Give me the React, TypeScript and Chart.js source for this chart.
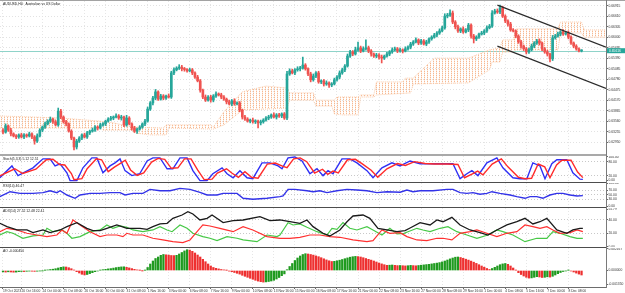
import { useEffect, useRef } from 'react';
import { Chart, registerables } from 'chart.js';

Chart.register(...registerables);

const FONT = "'Liberation Sans', Arial, sans-serif";
const PIP = 0.0001;

// ---- time axis (bar index) ----
const X_MIN = -1.14;
const X_MAX = 229.3;
const dateTickIdx = [0, 7, 15, 23, 31, 39, 47, 55, 63, 71, 79, 87, 95, 103, 111, 119, 127, 135, 143, 151, 159, 167, 175, 183, 191, 199, 207, 215];
const dateTickText = [
  '19 Oct 2023', '20 Oct 16:00', '24 Oct 00:00', '25 Oct 08:00', '26 Oct 16:00', '30 Oct 00:00', '31 Oct 08:00',
  '1 Nov 16:00', '3 Nov 00:00', '6 Nov 08:00', '7 Nov 16:00', '9 Nov 00:00', '10 Nov 08:00', '13 Nov 16:00',
  '15 Nov 00:00', '16 Nov 08:00', '17 Nov 16:00', '21 Nov 00:00', '22 Nov 08:00', '23 Nov 16:00', '27 Nov 00:00',
  '28 Nov 08:00', '29 Nov 16:00', '1 Dec 00:00', '4 Dec 08:00', '5 Dec 16:00', '7 Dec 00:00', '8 Dec 08:00',
];

// ---- AUDUSD H4 candles ----
const firstOpen = 0.6331;
const closes = [
  0.6325, 0.6343, 0.6331, 0.6320, 0.6314, 0.6311, 0.6317, 0.6311, 0.6317, 0.6314,
  0.6320, 0.6311, 0.6299, 0.6314, 0.6331, 0.6340, 0.6349, 0.6357, 0.6363, 0.6355,
  0.6346, 0.6386, 0.6369, 0.6355, 0.6349, 0.6328, 0.6308, 0.6282, 0.6299, 0.6308,
  0.6317, 0.6311, 0.6323, 0.6328, 0.6331, 0.6340, 0.6337, 0.6346, 0.6349, 0.6357,
  0.6363, 0.6366, 0.6369, 0.6372, 0.6366, 0.6369, 0.6346, 0.6366, 0.6349, 0.6337,
  0.6328, 0.6334, 0.6340, 0.6349, 0.6357, 0.6392, 0.6410, 0.6424, 0.6442, 0.6421,
  0.6430, 0.6424, 0.6430, 0.6427, 0.6497, 0.6506, 0.6511, 0.6514, 0.6509, 0.6507,
  0.6503, 0.6506, 0.6497, 0.6485, 0.6474, 0.6447, 0.6427, 0.6418, 0.6427, 0.6418,
  0.6430, 0.6436, 0.6433, 0.6427, 0.6421, 0.6413, 0.6407, 0.6416, 0.6407, 0.6410,
  0.6389, 0.6369, 0.6363, 0.6357, 0.6360, 0.6355, 0.6357, 0.6352, 0.6355, 0.6360,
  0.6366, 0.6369, 0.6375, 0.6369, 0.6375, 0.6372, 0.6378, 0.6366, 0.6494, 0.6503,
  0.6497, 0.6506, 0.6509, 0.6511, 0.6520, 0.6509, 0.6494, 0.6477, 0.6488, 0.6497,
  0.6471, 0.6474, 0.6465, 0.6468, 0.6462, 0.6465, 0.6477, 0.6485, 0.6497, 0.6506,
  0.6517, 0.6546, 0.6558, 0.6552, 0.6564, 0.6570, 0.6561, 0.6567, 0.6570, 0.6561,
  0.6552, 0.6546, 0.6549, 0.6543, 0.6540, 0.6546, 0.6552, 0.6558, 0.6564, 0.6567,
  0.6561, 0.6564, 0.6561, 0.6567, 0.6572, 0.6581, 0.6587, 0.6593, 0.6584, 0.6590,
  0.6581, 0.6587, 0.6596, 0.6601, 0.6607, 0.6613, 0.6619, 0.6628, 0.6662, 0.6665,
  0.6671, 0.6645, 0.6631, 0.6619, 0.6625, 0.6616, 0.6622, 0.6636, 0.6604, 0.6596,
  0.6601, 0.6610, 0.6613, 0.6619, 0.6628, 0.6633, 0.6671, 0.6677, 0.6674, 0.6686,
  0.6662, 0.6648, 0.6639, 0.6622, 0.6619, 0.6604, 0.6587, 0.6575, 0.6567, 0.6558,
  0.6564, 0.6575, 0.6584, 0.6590, 0.6584, 0.6567, 0.6558, 0.6552, 0.6538, 0.6599,
  0.6604, 0.6610, 0.6616, 0.6610, 0.6613, 0.6601, 0.6584, 0.6575, 0.6567, 0.6561,
  0.65616,
];
const upperWickPips = [
  4, 6, 3, 5, 3, 4, 3, 5, 4, 3, 5, 3, 4, 6, 4, 3, 5, 4, 6, 3,
  4, 9, 5, 3, 4, 3, 4, 3, 5, 4, 3, 5, 4, 3, 6, 4, 3, 5, 4, 3,
  4, 5, 3, 6, 4, 5, 3, 8, 4, 3, 5, 3, 4, 3, 5, 6, 4, 5, 7, 3,
  5, 4, 3, 6, 5, 6, 4, 7, 5, 4, 3, 5, 4, 3, 5, 4, 3, 6, 4, 5,
  4, 6, 3, 5, 4, 3, 5, 4, 6, 3, 4, 3, 5, 4, 3, 6, 4, 3, 5, 4,
  4, 5, 3, 6, 4, 5, 3, 4, 8, 6, 5, 4, 6, 5, 23, 4, 3, 5, 6, 4,
  5, 3, 4, 6, 3, 4, 5, 4, 6, 5, 4, 6, 5, 4, 8, 17, 5, 6, 23, 5,
  4, 3, 5, 4, 6, 3, 5, 4, 6, 5, 4, 5, 3, 6, 4, 5, 4, 6, 3, 5,
  4, 5, 3, 4, 5, 4, 6, 5, 7, 5, 9, 6, 4, 5, 3, 6, 4, 5, 4, 5,
  4, 3, 5, 4, 6, 5, 7, 5, 6, 8, 5, 4, 3, 5, 4, 3, 4, 5, 3, 4,
  5, 6, 4, 5, 6, 3, 4, 5, 3, 7, 5, 6, 4, 7, 5, 6, 4, 3, 4, 3,
  3,
];
const lowerWickPips = [
  5, 3, 4, 6, 3, 5, 4, 3, 5, 4, 3, 5, 9, 4, 3, 5, 4, 3, 4, 5,
  3, 4, 5, 4, 6, 3, 5, 9, 6, 4, 5, 3, 4, 5, 3, 4, 6, 3, 4, 5,
  3, 4, 5, 3, 4, 6, 5, 4, 3, 6, 4, 7, 3, 4, 5, 3, 4, 6, 5, 4,
  3, 5, 4, 3, 4, 5, 3, 4, 6, 5, 4, 3, 5, 4, 3, 6, 5, 4, 3, 6,
  5, 4, 3, 5, 4, 6, 3, 5, 4, 3, 5, 6, 4, 3, 5, 4, 5, 15, 6, 4,
  3, 5, 4, 3, 6, 4, 5, 4, 5, 4, 3, 5, 4, 6, 3, 4, 5, 6, 4, 5,
  4, 5, 6, 4, 7, 5, 3, 4, 5, 4, 5, 3, 4, 5, 3, 4, 5, 3, 4, 5,
  6, 4, 5, 6, 14, 4, 3, 5, 4, 3, 5, 4, 6, 3, 4, 5, 4, 3, 5, 4,
  3, 5, 4, 4, 3, 5, 4, 3, 4, 5, 4, 5, 6, 4, 5, 4, 3, 5, 6, 12,
  5, 4, 3, 5, 4, 3, 4, 3, 4, 5, 4, 5, 6, 4, 3, 5, 4, 6, 5, 6,
  4, 3, 5, 4, 6, 5, 4, 6, 9, 5, 4, 3, 5, 4, 3, 5, 4, 5, 4, 3,
  3,
];
const priceTicks = [0.66915, 0.6661, 0.66305, 0.66, 0.65695, 0.6539, 0.65085, 0.6478, 0.64475, 0.6417, 0.63865, 0.6356, 0.63255, 0.6295];

// ---- Ichimoku cloud: Senkou spans as [bar index, price] ----
const senkouA = [
  [-1.2, 0.6372], [11, 0.6369], [22, 0.6366], [37, 0.6357], [42, 0.6352], [49, 0.634], [61, 0.6337], [62, 0.6346],
  [79, 0.6346], [80, 0.634], [84, 0.6384], [91, 0.6442], [100, 0.6459], [108, 0.6453], [109, 0.6439], [118, 0.6439],
  [119, 0.6418], [126, 0.6418], [127, 0.6427], [135, 0.6427], [136, 0.6433], [141, 0.6433], [142, 0.6471], [152, 0.6471],
  [153, 0.6482], [156, 0.6482], [164, 0.654], [177, 0.654], [185, 0.6564], [189, 0.657], [190, 0.6593], [194, 0.6593],
  [195, 0.6625], [211, 0.6625], [212, 0.6645], [220, 0.6645], [221, 0.6622], [230, 0.6622],
];
const senkouB = [
  [-1.2, 0.6337], [37, 0.6337], [38, 0.6331], [49, 0.6331], [50, 0.6323], [56, 0.6317], [62, 0.6317], [63, 0.6337],
  [80, 0.6334], [84, 0.6346], [91, 0.6389], [108, 0.6395], [109, 0.6418], [118, 0.6418], [119, 0.6401], [125, 0.6401],
  [126, 0.6378], [129, 0.6375], [135, 0.6375], [136, 0.6427], [141, 0.6427], [142, 0.6433], [155, 0.6439], [156, 0.6465],
  [177, 0.6468], [185, 0.6506], [186, 0.6529], [189, 0.6529], [190, 0.6558], [194, 0.6558], [195, 0.6564], [211, 0.6564],
  [212, 0.6613], [220, 0.6613], [221, 0.6601], [230, 0.6601],
];

// ---- descending channel anchors [bar index, price] ----
const channelUpper = [[188, 0.6694], [229.3, 0.6572]];
const channelLower = [[188, 0.6575], [229.3, 0.6452]];

// ---- Stochastic (5,3,3) ----
const stochMain = [
  [-1.2, 12], [3.4, 62], [5.7, 21], [11.4, 54], [15.2, 92], [17.9, 92], [19.8, 62], [21.7, 71], [24.3, 33], [25.5, 0],
  [28.1, 0], [30.4, 54], [33.8, 96], [35.7, 96], [38, 33], [40.7, 62], [42.6, 75], [44.5, 92], [46.4, 42], [49, 21],
  [52, 29], [54.8, 83], [57, 96], [59.7, 96], [62.4, 50], [64.6, 50], [67.3, 96], [70, 96], [72.2, 42], [74.9, 0],
  [77.6, 0], [79.8, 29], [83.3, 54], [85.2, 29], [87.5, 12], [90.1, 42], [92.8, 12], [95, 8], [98.5, 75], [101.5, 75],
  [104.6, 62], [106.1, 50], [108.4, 96], [111, 100], [113.7, 83], [116.7, 29], [119.4, 50], [121.7, 21], [123.6, 42], [125.5, 29],
  [128.9, 92], [131.9, 92], [134.6, 75], [138.4, 42], [140.7, 12], [144.1, 54], [147.9, 75], [151, 62], [154.8, 83], [158.6, 71],
  [162.4, 71], [167.3, 71], [171.1, 71], [173.8, 8], [176.4, 29], [178.3, 42], [180.6, 21], [184, 75], [187.8, 96], [190.1, 54],
  [193.9, 12], [196.6, 8], [199.2, 8], [201.5, 75], [204.2, 62], [206.1, 8], [208.7, 71], [210.6, 88], [214.4, 88], [216.7, 33],
  [219.4, 6], [220.5, 5.12],
];
const stochSignal = [
  [-1.2, 20], [4.5, 50], [7.5, 30], [12.5, 48], [16.5, 88], [19, 90], [21.5, 68], [23.5, 66], [26, 30], [27, 4],
  [30, 8], [32, 50], [35.5, 92], [37.5, 88], [40, 38], [42.5, 58], [44.5, 72], [46.5, 86], [48.5, 45], [51, 22],
  [53.5, 32], [56.5, 78], [59, 94], [61.5, 90], [64, 52], [66.5, 54], [69, 92], [71.5, 92], [74, 45], [76.5, 4],
  [79.5, 6], [81.5, 32], [85, 50], [87, 32], [89.5, 14], [92, 38], [94.5, 14], [97, 10], [100.5, 70], [103.5, 74],
  [106.5, 60], [108, 55], [110.5, 92], [113, 96], [115.5, 80], [118.5, 32], [121.5, 48], [123.5, 26], [125.5, 40], [127.5, 32],
  [131, 88], [134, 90], [136.5, 72], [140, 44], [142.5, 14], [146, 50], [150, 72], [153, 64], [156.5, 80], [160.5, 72],
  [164, 70], [169, 70], [173, 68], [175.5, 12], [178.5, 28], [180.5, 40], [182.5, 24], [186, 70], [189.5, 92], [192, 58],
  [196, 14], [198.5, 8], [201, 10], [203.5, 70], [206, 58], [208, 12], [210.5, 66], [212.5, 86], [216, 86], [218.5, 36],
  [220.5, 12.51],
];

// ---- RSI(14) ----
const rsiLine = [
  [-1.2, 42], [2.7, 63], [6.5, 56], [11.4, 56], [15.2, 59], [17.9, 67], [20.5, 59], [21.7, 67], [24.3, 49], [27.4, 35],
  [29.3, 49], [33.1, 56], [36.9, 56], [40.7, 59], [44.5, 59], [46.4, 49], [49.4, 56], [53.2, 56], [55.9, 73], [59.7, 67],
  [63.5, 67], [67.3, 77], [71.1, 73], [74.9, 60], [77.6, 49], [81.4, 49], [83.7, 56], [89, 56], [91.3, 35], [95, 31],
  [100.4, 35], [105.3, 42], [106.5, 45], [108.4, 73], [111, 73], [115.6, 67], [117.9, 63], [120.5, 67], [123.2, 59], [127, 67],
  [130.8, 73], [134.6, 70], [138.4, 67], [142.2, 59], [146, 63], [151, 61], [153.6, 70], [155.9, 63], [158.6, 67], [163.5, 67],
  [168.8, 73], [171.1, 73], [173.8, 59], [176.4, 56], [178.7, 59], [181.4, 52], [184, 56], [185.9, 63], [189, 56], [192.8, 49],
  [195.4, 42], [198.5, 35], [200.4, 42], [203, 42], [205.3, 35], [208, 49], [210.6, 56], [212.9, 56], [215.6, 49], [218.3, 45],
  [220.5, 46.47],
];

// ---- ADX(14) with +DI / -DI ----
const adxMain = [
  [-1.2, 35], [1.5, 30], [5.3, 25], [9.1, 25], [11.4, 21], [15.2, 25], [17.9, 21], [21.7, 25], [24.3, 30], [28.1, 36],
  [31.9, 27.5], [34.2, 24], [36.9, 24], [39.5, 27.5], [43.3, 32.5], [47.1, 27.5], [52.1, 27.5], [54.8, 26], [57, 30], [59.7, 34],
  [62.4, 35], [64.6, 42.5], [68.1, 47.5], [70.3, 52.5], [72.2, 49], [74.9, 40], [77.6, 42.5], [79.5, 47.5], [83.7, 36], [87.5, 39],
  [91.3, 40], [97.7, 45], [101.5, 39], [105.3, 40], [109.1, 37.4], [112.9, 35], [115.6, 40], [117.9, 30], [121.7, 20], [124.3, 16],
  [128.1, 25], [130.8, 37.4], [133.1, 46], [136.9, 47.5], [139.5, 42.5], [142.6, 27.5], [146, 25], [149.8, 22.4], [152.9, 24], [154.8, 28],
  [158.6, 36], [162.4, 32.5], [165, 40], [167.3, 37.4], [170.7, 44], [173.8, 32.5], [177.6, 25], [181.4, 21], [184.4, 17.4], [187.8, 25],
  [191.6, 32.5], [195.4, 37.4], [198.5, 42.5], [201.5, 34], [204.2, 37.4], [206.8, 42.5], [210.6, 25], [214.4, 20], [216.7, 25], [219.4, 27.5],
  [220.5, 27.52],
];
const plusDI = [
  [-1.2, 17.4], [1.5, 22.4], [3.8, 20], [7.6, 12.5], [11.4, 16], [15.2, 17.4], [16.7, 27.5], [19, 22.4], [22.4, 25], [24.3, 20],
  [26.2, 12.5], [29.3, 15], [33.1, 22.4], [36.9, 25], [39.5, 32.5], [41.8, 27.5], [44.5, 31], [47.1, 29], [49.4, 25], [53.2, 22.4],
  [57, 25], [59.7, 30], [62.4, 25], [64.3, 22.4], [67.3, 32.5], [70, 27.5], [72.2, 20], [76, 15], [78.7, 12.5], [81.4, 9],
  [85.2, 15], [89, 12.5], [91.3, 10], [96.6, 7.4], [100.4, 17.4], [104.2, 15], [105.3, 17.4], [108.4, 36], [110.3, 32.5], [112.9, 34],
  [115.6, 29], [119.4, 22.4], [123.2, 17.4], [125.1, 27.5], [127, 26], [129.3, 36], [131.9, 27.5], [134.6, 25], [138.4, 30], [140.7, 25],
  [144.1, 17.4], [147.1, 27.5], [149.8, 19], [152.5, 20], [154, 22.4], [157.4, 27.5], [159.7, 25], [162.4, 22.4], [166.2, 27.5], [169.2, 30],
  [172.6, 22.4], [176.4, 17.4], [180.2, 12.5], [184.4, 17.4], [187.8, 25], [190.1, 22.4], [193.9, 17.4], [198.5, 7.4], [203, 12.5], [206.8, 12.5],
  [209.1, 22.4], [211.8, 20], [215.6, 15], [218.3, 12.5], [220.5, 12.48],
];
const minusDI = [
  [-1.2, 22.4], [1.5, 27.5], [5.3, 25], [9.1, 20], [12.9, 17.4], [16.7, 15], [20.5, 17.4], [22.4, 25], [24.3, 20], [26.6, 40],
  [29.3, 32.5], [33.1, 22.4], [36.9, 15], [39.5, 17.4], [43.3, 17.4], [45.6, 15], [47.1, 20], [49.4, 17.4], [53.2, 17.4], [57, 12.5],
  [60.8, 10], [64.6, 7.4], [68.4, 6], [71.1, 10], [73.8, 22.4], [76, 32.5], [78.7, 31], [82.5, 27.5], [87.5, 22.4], [91.3, 30],
  [95, 25], [100.4, 15], [105.3, 12.5], [109.1, 12.5], [112.9, 14], [116.7, 17.4], [120.5, 17.4], [124.3, 15], [128.1, 14], [133.1, 10],
  [138.4, 7.4], [140.7, 9], [144.1, 25], [147.1, 20], [151, 21], [153.6, 15], [157.4, 10], [161.2, 9], [165, 12.5], [167.3, 12.5],
  [170.7, 10], [173.8, 20], [177.6, 22.4], [180.2, 25], [184, 20], [187.8, 15], [191.6, 20], [195.4, 22.4], [198.5, 32.5], [201.5, 30],
  [204.2, 27.5], [206.8, 30], [209.1, 25], [211.8, 20], [215.6, 21], [218.3, 25], [220.5, 22.41],
];

// ---- Awesome Oscillator, one value per bar ----
const aoValues = [
  -0.00014, -0.00016, -0.00013, -0.00015, -0.00017, -0.00016, -0.00012, -0.0001, -0.00011, -0.00008,
  -0.00006, -0.00007, -0.00009, -0.00007, -0.00004, -0.00002, 0.00002, 0.00006, 0.0001, 0.00013,
  0.00018, 0.00025, 0.00032, 0.00036, 0.00035, 0.00028, 0.00018, 0.00004, -0.00012, -0.00025,
  -0.00038, -0.00044, -0.0004, -0.00031, -0.00022, -0.00012, -0.00005, 0.00003, 0.00008, 0.00012,
  0.00016, 0.00019, 0.00024, 0.00029, 0.00033, 0.00036, 0.00037, 0.00032, 0.00026, 0.00019,
  0.00012, 0.00006, 0.00002, -0.00001, 0.00002, 0.0003, 0.00065, 0.00095, 0.0012, 0.00135,
  0.00152, 0.0016, 0.00157, 0.00154, 0.0015, 0.00149, 0.00152, 0.00165, 0.0018, 0.00196,
  0.00208, 0.00204, 0.00192, 0.00175, 0.00155, 0.00135, 0.00112, 0.00088, 0.00065, 0.00045,
  0.0003, 0.00022, 0.00016, 0.0001, 0.00006, 0.00002, -0.00006, -0.00012, -0.0002, -0.00028,
  -0.00036, -0.00048, -0.00058, -0.00068, -0.00078, -0.00088, -0.00098, -0.00106, -0.00112, -0.00116,
  -0.00114, -0.0011, -0.00105, -0.00098, -0.00085, -0.0007, -0.00052, -0.00034, 0.00008, 0.0004,
  0.0007, 0.001, 0.00125, 0.00145, 0.0016, 0.00168, 0.00165, 0.0016, 0.00154, 0.00146,
  0.00138, 0.00128, 0.00117, 0.00106, 0.00097, 0.0009, 0.00092, 0.00097, 0.00103, 0.0011,
  0.00118, 0.00126, 0.00133, 0.00138, 0.00141, 0.00139, 0.00135, 0.00128, 0.0012, 0.00112,
  0.00104, 0.00095, 0.00085, 0.00075, 0.00066, 0.00058, 0.00052, 0.00053, 0.00055, 0.00052,
  0.00049, 0.0005, 0.00048, 0.00046, 0.00048, 0.00051, 0.00049, 0.00047, 0.0005, 0.00053,
  0.00056, 0.00059, 0.00062, 0.00066, 0.0007, 0.00074, 0.00079, 0.00086, 0.00095, 0.00105,
  0.00116, 0.00125, 0.00133, 0.00135, 0.0013, 0.00122, 0.00113, 0.00104, 0.00094, 0.00083,
  0.00071, 0.00058, 0.00045, 0.00033, 0.0002, 0.0001, 0.0002, 0.00032, 0.00045, 0.00058,
  0.00066, 0.0007, 0.00062, 0.00045, 0.00025, 0.00003, -0.00022, -0.0004, -0.00055, -0.00068,
  -0.00076, -0.00074, -0.00068, -0.00062, -0.00065, -0.0007, -0.00068, -0.00063, -0.00066, -0.00058,
  -0.00045, -0.00032, -0.0002, -0.0001, -0.00004, 0.00002, -0.00005, -0.00015, -0.00026, -0.00036,
  -0.00045,
];

const BULL = '#26a69a';
const BEAR = '#ef5350';
const AO_UP = '#1f9a1f';
const AO_DOWN = '#ee3030';

const toXY = (pts) => pts.map(([x, y]) => ({ x, y }));
const last = (pts) => pts[pts.length - 1][1];

function xAxis(showLabels) {
  return {
    type: 'linear',
    min: X_MIN,
    max: X_MAX,
    bounds: 'data',
    offset: false,
    afterBuildTicks: (s) => {
      s.ticks = dateTickIdx.map((v) => ({ value: v }));
    },
    afterFit: (s) => {
      s.height = showLabels ? 6 : 0;
      s.paddingLeft = 0;
      s.paddingRight = 0;
      s.paddingTop = 0;
      s.paddingBottom = 0;
    },
    grid: { offset: false, color: '#e6e6e6', lineWidth: 1, drawTicks: showLabels, tickLength: 2, tickColor: '#6a6a6a', tickBorderDash: [] },
    border: { display: false, dash: [1, 2] },
    ticks: {
      display: showLabels,
      autoSkip: false,
      maxRotation: 0,
      minRotation: 0,
      align: 'start',
      padding: 0.5,
      color: '#333',
      font: { family: FONT, size: 3.3 },
      callback: (v) => {
        const k = dateTickIdx.indexOf(v);
        return k >= 0 ? dateTickText[k] : '';
      },
    },
  };
}

function yAxis(min, max, ticks, digits, levels, levelColor) {
  return {
    type: 'linear',
    position: 'right',
    min,
    max,
    bounds: 'data',
    afterBuildTicks: (s) => {
      s.ticks = ticks.map((v) => ({ value: v }));
    },
    afterFit: (s) => {
      s.width = 19;
      s.paddingTop = 0;
      s.paddingBottom = 0;
      s.paddingLeft = 0;
      s.paddingRight = 0;
    },
    grid: {
      color: (ctx) => (ctx.tick && levels.includes(ctx.tick.value) ? levelColor : 'rgba(0,0,0,0)'),
      drawTicks: true,
      tickLength: 2,
      tickColor: '#6a6a6a',
      tickBorderDash: [],
    },
    border: { display: false, dash: [1, 2] },
    ticks: {
      autoSkip: false,
      padding: 0.5,
      color: '#333',
      font: { family: FONT, size: 3.3 },
      callback: (v) => Number(v).toFixed(digits),
    },
  };
}

function paneTitle(text) {
  return {
    id: 'paneTitle',
    afterDraw(chart) {
      const { ctx, chartArea } = chart;
      ctx.save();
      ctx.font = `3.4px ${FONT}`;
      ctx.fillStyle = '#222';
      ctx.textBaseline = 'top';
      ctx.fillText(text, chartArea.left + 3, chartArea.top + 1);
      ctx.restore();
    },
  };
}

function baseOptions(scales) {
  return {
    responsive: false,
    animation: false,
    devicePixelRatio: 1,
    events: [],
    layout: { padding: 0 },
    plugins: { legend: { display: false }, tooltip: { enabled: false } },
    scales,
  };
}

function lineSet(pts, color, width, order) {
  return {
    type: 'line',
    data: toXY(pts),
    borderColor: color,
    borderWidth: width,
    pointRadius: 0,
    tension: 0,
    fill: false,
    order,
  };
}

function buildCandles() {
  const bodies = [];
  const wicks = [];
  const colors = [];
  closes.forEach((c, i) => {
    const o = i === 0 ? firstOpen : closes[i - 1];
    const hi = Math.max(o, c) + upperWickPips[i] * PIP;
    const lo = Math.min(o, c) - lowerWickPips[i] * PIP;
    bodies.push({ x: i, y: [o, c] });
    wicks.push({ x: i, y: [lo, hi] });
    colors.push(c >= o ? BULL : BEAR);
  });
  return { bodies, wicks, colors };
}

// Kumo hatch: vertical dotted columns in a pale sandy-brown
function makeHatch() {
  const c = document.createElement('canvas');
  c.width = 3;
  c.height = 2;
  const g = c.getContext('2d');
  g.fillStyle = '#f7b890';
  g.fillRect(1, 0, 1, 1);
  g.fillStyle = '#fde9dc';
  g.fillRect(1, 1, 1, 1);
  return g.createPattern(c, 'repeat');
}

export default function App() {
  const mainRef = useRef(null);
  const stochRef = useRef(null);
  const rsiRef = useRef(null);
  const adxRef = useRef(null);
  const aoRef = useRef(null);

  useEffect(() => {
    document.body.style.margin = '0';
    const lastPrice = closes[closes.length - 1];
    const { bodies, wicks, colors } = buildCandles();

    const pricePlugin = {
      id: 'lastPrice',
      beforeDatasetsDraw(chart) {
        const { ctx, chartArea } = chart;
        const y = Math.round(chart.scales.y.getPixelForValue(lastPrice)) + 0.5;
        ctx.save();
        ctx.strokeStyle = '#8fd3c9';
        ctx.lineWidth = 1;
        ctx.beginPath();
        ctx.moveTo(chartArea.left, y);
        ctx.lineTo(chartArea.right, y);
        ctx.stroke();
        ctx.restore();
      },
      afterDraw(chart) {
        const { ctx, chartArea } = chart;
        const y = chart.scales.y.getPixelForValue(lastPrice);
        ctx.save();
        ctx.fillStyle = '#26a69a';
        ctx.fillRect(chartArea.right + 1, y - 2.5, 18, 5);
        ctx.fillStyle = '#fff';
        ctx.font = `3.3px ${FONT}`;
        ctx.textBaseline = 'middle';
        ctx.fillText(lastPrice.toFixed(5), chartArea.right + 3, y + 0.2);
        ctx.restore();
      },
    };

    const hatch = makeHatch();

    const charts = [];

    charts.push(
      new Chart(mainRef.current, {
        type: 'bar',
        data: {
          datasets: [
            {
              type: 'line',
              data: toXY(senkouA),
              borderColor: '#f9c9a8',
              borderWidth: 1,
              borderDash: [1, 1],
              pointRadius: 0,
              tension: 0,
              fill: '+1',
              backgroundColor: hatch,
              order: 10,
            },
            {
              type: 'line',
              data: toXY(senkouB),
              borderColor: '#f9c9a8',
              borderWidth: 1,
              borderDash: [1, 1],
              pointRadius: 0,
              tension: 0,
              fill: false,
              order: 10,
            },
            { type: 'bar', data: wicks, backgroundColor: colors, barThickness: 1, grouped: false, borderWidth: 0, order: 4 },
            { type: 'bar', data: bodies, backgroundColor: colors, barThickness: 2, grouped: false, borderWidth: 0, minBarLength: 1, order: 3 },
            lineSet(channelUpper, '#2b2b2b', 1.2, 1),
            lineSet(channelLower, '#2b2b2b', 1.2, 1),
          ],
        },
        options: baseOptions({
          x: xAxis(false),
          y: yAxis(0.62615, 0.6706, priceTicks, 5, priceTicks, '#e2e2e2'),
        }),
        plugins: [pricePlugin, paneTitle('AUDUSD,H4:  Australian vs US Dollar')],
      })
    );

    charts.push(
      new Chart(stochRef.current, {
        type: 'line',
        data: {
          datasets: [lineSet(stochMain, '#2f2ff5', 1.4, 2), lineSet(stochSignal, '#ff2a2a', 1.4, 1)],
        },
        options: baseOptions({ x: xAxis(false), y: yAxis(-6, 104, [100, 80, 20, 0], 2, [80, 20], '#c8c8c8') }),
        plugins: [paneTitle(`Stoch(5,3,3) ${last(stochMain).toFixed(2)} ${last(stochSignal).toFixed(2)}`)],
      })
    );

    charts.push(
      new Chart(rsiRef.current, {
        type: 'line',
        data: { datasets: [lineSet(rsiLine, '#3333e8', 1.4, 1)] },
        options: baseOptions({ x: xAxis(false), y: yAxis(-2, 100, [100, 70, 50, 30, 0], 2, [70, 50, 30], '#c8c8c8') }),
        plugins: [paneTitle(`RSI(14) ${last(rsiLine).toFixed(2)}`)],
      })
    );

    charts.push(
      new Chart(adxRef.current, {
        type: 'line',
        data: {
          datasets: [
            lineSet(plusDI, '#46c846', 1.2, 3),
            lineSet(minusDI, '#ff3030', 1.2, 2),
            lineSet(adxMain, '#1a1a1a', 1.3, 1),
          ],
        },
        options: baseOptions({ x: xAxis(false), y: yAxis(-0.6, 58, [55.79, 40, 20, 0], 2, [40, 20], '#c8c8c8') }),
        plugins: [
          paneTitle(`ADX(14) ${last(adxMain).toFixed(2)} ${last(plusDI).toFixed(2)} ${last(minusDI).toFixed(2)}`),
        ],
      })
    );

    const aoColors = aoValues.map((v, i) => (i > 0 && v < aoValues[i - 1] ? AO_DOWN : AO_UP));
    charts.push(
      new Chart(aoRef.current, {
        type: 'bar',
        data: {
          datasets: [
            {
              data: aoValues.map((v, i) => ({ x: i, y: v })),
              backgroundColor: aoColors,
              barThickness: 1.6,
              borderWidth: 0,
              grouped: false,
            },
          ],
        },
        options: baseOptions({ x: xAxis(true), y: yAxis(-0.00165, 0.00225, [0.002167, 0, -0.00135], 6, [], '#c8c8c8') }),
        plugins: [paneTitle(`AO ${aoValues[aoValues.length - 1].toFixed(6)}`)],
      })
    );

    return () => charts.forEach((c) => c.destroy());
  }, []);

  const cv = (top, height) => ({ position: 'absolute', left: 0, top, width: 625, height });
  const bar = (top, height, width, color) => ({ position: 'absolute', left: 0, top, width, height, background: color });

  return (
    <div style={{ position: 'fixed', left: 0, top: 0, width: 625, height: 293, background: '#fff', overflow: 'hidden' }}>
      <canvas ref={mainRef} width={625} height={153} style={cv(1, 153)} />
      <canvas ref={stochRef} width={625} height={26} style={cv(156, 26)} />
      <canvas ref={rsiRef} width={625} height={24} style={cv(183, 24)} />
      <canvas ref={adxRef} width={625} height={39} style={cv(208, 39)} />
      <canvas ref={aoRef} width={625} height={45} style={cv(248, 45)} />
      <div style={bar(0, 1, 625, '#a3a3a3')} />
      <div style={bar(154, 2, 607, '#a9a9a9')} />
      <div style={bar(182, 1, 607, '#4d4d4d')} />
      <div style={bar(207, 1, 607, '#4d4d4d')} />
      <div style={bar(247, 1, 607, '#4d4d4d')} />
      <div style={bar(287, 1, 607, '#6d6d6d')} />
      <div style={{ position: 'absolute', left: 606, top: 0, width: 1, height: 288, background: '#7a7a7a' }} />
    </div>
  );
}
